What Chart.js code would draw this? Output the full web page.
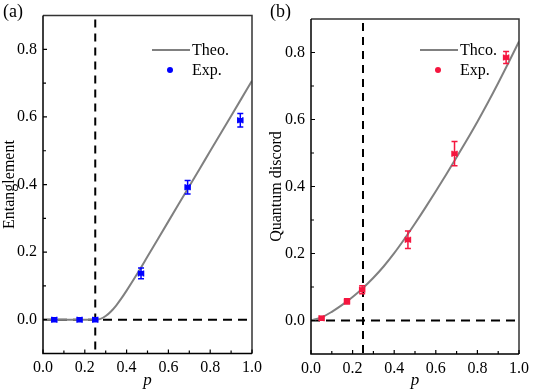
<!DOCTYPE html>
<html><head><meta charset="utf-8">
<script src="https://cdn.jsdelivr.net/npm/chart.js@4/dist/chart.umd.min.js"></script>
<style>
body{margin:0;background:#fff;width:534px;height:391px;position:relative;overflow:hidden}
canvas{position:absolute;top:0}
</style></head>
<body>
<canvas id="ca" width="267" height="391" style="left:0"></canvas>
<canvas id="cb" width="267" height="391" style="left:267px"></canvas>
<script>
// ---- data ----
const xTickValues = [0, 0.2, 0.4, 0.6, 0.8, 1.0];
const yTickValues = [0, 0.2, 0.4, 0.6, 0.8];
const thresholdP = 0.25;

// (a) Entanglement
const theoPA   = [0, 0.1, 0.2, 0.25, 0.275, 0.3, 0.325, 0.35, 0.375, 0.4, 0.45, 0.5, 0.55, 0.6, 0.65, 0.7, 0.75, 0.8, 0.85, 0.9, 0.95, 1.0];
const theoEnt  = [0, 0, 0, 0, 0.0025, 0.011, 0.0245, 0.042, 0.063, 0.086, 0.135, 0.187, 0.239, 0.291, 0.343, 0.395, 0.447, 0.499, 0.551, 0.603, 0.655, 0.707];
const expPA    = [0.054, 0.175, 0.25, 0.469, 0.692, 0.944];
const expEnt   = [0, 0, 0, 0.137, 0.392, 0.59];
const expEntErr= [0.006, 0.006, 0.006, 0.016, 0.02, 0.02];
const expPAErr = [0.012, 0.012, 0.012, 0.012, 0.012, 0.012];

// (b) Quantum discord
const theoPB   = [0, 0.05, 0.1, 0.15, 0.2, 0.25, 0.3, 0.35, 0.4, 0.45, 0.5, 0.55, 0.6, 0.65, 0.7, 0.75, 0.8, 0.85, 0.9, 0.95, 1.0];
const theoDisc = [0, 0.009, 0.026, 0.0465, 0.07, 0.097, 0.1275, 0.162, 0.201, 0.244, 0.2895, 0.337, 0.386, 0.436, 0.487, 0.5395, 0.5935, 0.65, 0.709, 0.77, 0.833];
const expPB    = [0.051, 0.173, 0.246, 0.466, 0.69, 0.938];
const expDisc  = [0.007, 0.057, 0.092, 0.241, 0.498, 0.785];
const expDiscErr=[0.006, 0.008, 0.012, 0.026, 0.036, 0.018];
const expPBErr = [0.012, 0.012, 0.012, 0.012, 0.012, 0.012];

const FONT = '"Liberation Serif", "Times New Roman", serif';

const panelPlugin = {
  id: 'panel',
  beforeDatasetsDraw(chart, args, o) {
    const {ctx, chartArea: a, scales: {x, y}} = chart;
    ctx.save();
    ctx.strokeStyle = '#000';
    ctx.lineWidth = 2;
    ctx.setLineDash([9, 6]);
    const y0 = y.getPixelForValue(0);
    ctx.beginPath(); ctx.moveTo(a.left, y0); ctx.lineTo(a.right, y0); ctx.stroke();
    const xv = x.getPixelForValue(o.threshold);
    ctx.setLineDash([8, 6]);
    ctx.beginPath(); ctx.moveTo(xv, a.top + 4); ctx.lineTo(xv, a.bottom); ctx.stroke();
    ctx.restore();
  },
  afterDatasetsDraw(chart, args, o) {
    const {ctx, scales: {x, y}} = chart;
    ctx.save();
    ctx.strokeStyle = o.color;
    ctx.lineWidth = 1.5;
    for (let i = 0; i < o.px.length; i++) {
      const cx = x.getPixelForValue(o.px[i]);
      const cy = y.getPixelForValue(o.py[i]);
      const t = y.getPixelForValue(o.py[i] + o.ey[i]);
      const b = y.getPixelForValue(o.py[i] - o.ey[i]);
      const l = x.getPixelForValue(o.px[i] - o.ex[i]);
      const r = x.getPixelForValue(o.px[i] + o.ex[i]);
      ctx.beginPath();
      ctx.moveTo(cx, t); ctx.lineTo(cx, b);
      ctx.moveTo(cx - 3, t); ctx.lineTo(cx + 3, t);
      ctx.moveTo(cx - 3, b); ctx.lineTo(cx + 3, b);
      ctx.moveTo(l, cy); ctx.lineTo(r, cy);
      ctx.moveTo(l, cy - 3); ctx.lineTo(l, cy + 3);
      ctx.moveTo(r, cy - 3); ctx.lineTo(r, cy + 3);
      ctx.stroke();
    }
    ctx.restore();
  },
  afterDraw(chart, args, o) {
    const {ctx, chartArea: a, scales: {x, y}} = chart;
    ctx.save();
    // frame
    ctx.lineWidth = 1.5;
    ctx.strokeStyle = '#333';
    ctx.beginPath(); ctx.moveTo(a.left, a.top); ctx.lineTo(a.right, a.top); ctx.lineTo(a.right, a.bottom); ctx.stroke();
    ctx.strokeStyle = '#000';
    ctx.beginPath(); ctx.moveTo(a.left, a.top); ctx.lineTo(a.left, a.bottom); ctx.lineTo(a.right, a.bottom); ctx.stroke();
    // inner ticks
    ctx.lineWidth = 1.2;
    ctx.beginPath();
    x.ticks.forEach((t, i) => {
      const px = x.getPixelForValue(t.value);
      ctx.moveTo(px, a.bottom); ctx.lineTo(px, a.bottom - 4);
      if (i < x.ticks.length - 1) {
        const pm = x.getPixelForValue((t.value + x.ticks[i + 1].value) / 2);
        ctx.moveTo(pm, a.bottom); ctx.lineTo(pm, a.bottom - 3);
      }
    });
    y.ticks.forEach((t, i) => {
      const py = y.getPixelForValue(t.value);
      ctx.moveTo(a.left, py); ctx.lineTo(a.left + 4, py);
      const pm = y.getPixelForValue(t.value + 0.1);
      if (t.value + 0.1 < y.max) { ctx.moveTo(a.left, pm); ctx.lineTo(a.left + 3, pm); }
    });
    ctx.stroke();
    // legend
    ctx.fillStyle = '#000';
    ctx.font = '16px ' + FONT;
    ctx.textBaseline = 'middle';
    ctx.textAlign = 'left';
    ctx.strokeStyle = '#808080';
    ctx.lineWidth = 2;
    ctx.beginPath(); ctx.moveTo(a.left + 109, 50); ctx.lineTo(a.left + 147, 50); ctx.stroke();
    ctx.fillText(o.theoLabel, a.left + 149, 51);
    ctx.fillStyle = o.color;
    ctx.beginPath(); ctx.arc(a.left + 127, 70, 3, 0, Math.PI * 2); ctx.fill();
    ctx.fillStyle = '#000';
    ctx.fillText('Exp.', a.left + 149, 71);
    // panel label
    ctx.font = '18px ' + FONT;
    ctx.fillText(o.label, 3, 12);
    ctx.restore();
  }
};

function makeChart(id, p) {
  return new Chart(document.getElementById(id), {
    type: 'scatter',
    data: {
      datasets: [
        { type: 'line', data: p.theoX.map((v, i) => ({x: v, y: p.theoY[i]})), borderColor: '#808080', borderWidth: 2,
          pointRadius: 0, cubicInterpolationMode: 'monotone', fill: false, order: 2 },
        { data: p.expX.map((v, i) => ({x: v, y: p.expY[i]})), backgroundColor: p.color, borderColor: p.color,
          pointStyle: 'rect', pointRadius: 3.4, borderWidth: 0, order: 1 }
      ]
    },
    options: {
      responsive: false, animation: false, devicePixelRatio: 1,
      layout: { padding: { top: p.top, right: p.right, left: 0, bottom: 0 } },
      plugins: {
        legend: { display: false }, tooltip: { enabled: false },
        panel: { threshold: thresholdP, px: p.expX, py: p.expY, ex: p.expXErr, ey: p.expYErr, color: p.color,
                 theoLabel: p.theoLabel, label: p.label }
      },
      scales: {
        x: {
          type: 'linear', min: 0, max: 1,
          afterBuildTicks: s => { s.ticks = xTickValues.map(v => ({value: v})); },
          ticks: { callback: v => Number(v).toFixed(1), font: { family: FONT, size: 16 }, color: '#000', padding: 5, maxRotation: 0, autoSkip: false },
          grid: { display: false, drawTicks: false }, border: { display: false },
          title: { display: true, text: 'p', font: { family: FONT, size: 17, style: 'italic' }, color: '#000', padding: 0 },
          afterFit: s => { s.height = p.xh; }
        },
        y: {
          type: 'linear', min: -0.1, max: 0.9,
          afterBuildTicks: s => { s.ticks = yTickValues.map(v => ({value: v})); },
          ticks: { callback: v => Number(v).toFixed(1), font: { family: FONT, size: 16 }, color: '#000', padding: 6, autoSkip: false },
          grid: { display: false, drawTicks: false }, border: { display: false },
          title: { display: true, text: p.yTitle, font: { family: FONT, size: 16 }, color: '#000', padding: 0 },
          afterFit: s => { s.width = p.yw; }
        }
      }
    },
    plugins: [panelPlugin]
  });
}

makeChart('ca', { theoX: theoPA, theoY: theoEnt, expX: expPA, expY: expEnt, expXErr: expPAErr, expYErr: expEntErr,
  color: '#0000ff', theoLabel: 'Theo.', label: '(a)', yTitle: 'Entanglement', top: 15, right: 13.5, xh: 37.5, yw: 43 });
makeChart('cb', { theoX: theoPB, theoY: theoDisc, expX: expPB, expY: expDisc, expXErr: expPBErr, expYErr: expDiscErr,
  color: '#f5163f', theoLabel: 'Thco.', label: '(b)', yTitle: 'Quantum discord', top: 19, right: 13, xh: 37, yw: 44 });
</script>
</body></html>
